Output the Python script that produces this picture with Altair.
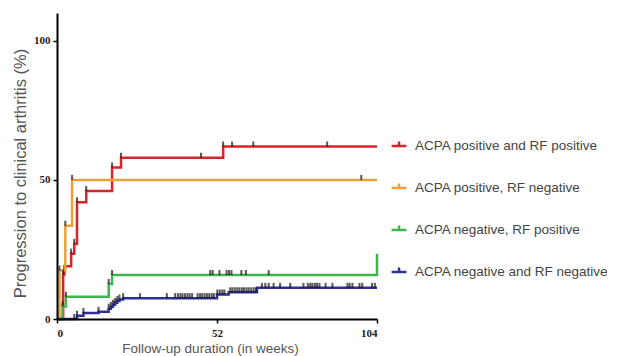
import altair as alt
import pandas as pd

series_names = [
    "ACPA positive and RF positive",
    "ACPA positive, RF negative",
    "ACPA negative, RF positive",
    "ACPA negative and RF negative",
]
series_colors = ["#d8232a", "#e9a23b", "#3db54a", "#2e3192"]

# step curves (week, cumulative %)
red_weeks = [0, 2.0, 2.4, 4.6, 5.6, 6.5, 9.5, 17.9, 20.8, 54.0, 104]
red_vals = [0, 16, 19, 23.5, 27, 42, 46, 54.5, 58, 62, 62]
orange_weeks = [0, 0.8, 2.7, 4.9, 104]
orange_vals = [0, 17.4, 33.5, 50, 50]
green_weeks = [0, 1.8, 2.9, 16.8, 17.9, 104]
green_vals = [0, 4.5, 8, 12.6, 15.8, 23.5]
blue_weeks = [0, 6.5, 8.6, 13.5, 16.8, 17.5, 18.2, 18.9, 19.6, 20.3, 21.5, 52.0, 55.8, 65.0, 104]
blue_vals = [0, 1.2, 2.2, 2.6, 3.7, 4.4, 5.1, 5.8, 6.5, 7.0, 7.5, 8.8, 9.6, 11.2, 11.2]

# censoring marks (weeks)
red_cens = [2.0, 4.6, 5.6, 6.5, 9.5, 17.9, 20.8, 46.8, 54.0, 56.9, 63.8, 87.8]
orange_cens = [0.8, 2.7, 4.9, 98.9]
green_cens = [1.8, 2.9, 16.8, 17.9, 49.8, 50.6, 52.8, 55.1, 55.9, 56.7, 59.9, 61.4, 68.8]
blue_cens = [5.6, 6.5, 8.6, 13.5, 16.8, 17.5, 18.2, 18.9, 19.6, 20.3, 21.5, 27.0,
             35.7, 38.4, 39.3, 40.1, 40.8, 41.6, 42.4, 43.1, 43.9,
             45.7, 46.5, 47.2, 48.0, 48.8, 49.5, 50.3, 51.0,
             52.1, 52.9, 53.7, 54.4, 56.3, 57.0, 57.8, 58.6, 59.3, 60.1, 60.8,
             61.6, 62.3, 63.1, 63.9, 64.6, 66.6, 67.7, 68.8, 70.4, 72.5, 75.8,
             80.1, 81.5, 82.3, 83.0, 83.8, 84.5, 85.3, 87.3, 89.5, 94.4, 95.1,
             96.0, 98.3, 99.2, 102.4, 103.3]

curves = [(red_weeks, red_vals, red_cens), (orange_weeks, orange_vals, orange_cens),
          (green_weeks, green_vals, green_cens), (blue_weeks, blue_vals, blue_cens)]

line_rows, tick_rows = [], []
for name, (wk, vals, cens) in zip(series_names, curves):
    for w, v in zip(wk, vals):
        line_rows.append({"series": name, "week": w, "pct": v})
    for c in cens:
        v = 0
        for w, val in zip(wk, vals):
            if w <= c:
                v = val
        tick_rows.append({"series": name, "week": c, "pct": v})

lines_df = pd.DataFrame(line_rows)
ticks_df = pd.DataFrame(tick_rows)

x_enc = alt.X("week:Q", scale=alt.Scale(domain=[0, 104], nice=False),
              axis=alt.Axis(values=[0, 52, 104], title="Follow-up duration (in weeks)",
                            grid=False, domainColor="black", domainWidth=2, tickColor="black",
                            tickWidth=1.5, tickSize=4, labelFont="Liberation Sans Narrow",
                            labelFontWeight="bold", labelFontSize=11, labelColor="#222",
                            titleFont="Liberation Sans", titleFontWeight="normal",
                            titleFontSize=13.5, titleColor="#555", titlePadding=3,
                            titleX=153, labelPadding=4, zindex=1))
y_enc = alt.Y("pct:Q", scale=alt.Scale(domain=[0, 110], nice=False),
              axis=alt.Axis(values=[0, 50, 100], title="Progression to clinical arthritis (%)",
                            grid=False, domainColor="black", domainWidth=2, tickColor="black",
                            tickWidth=1.5, tickSize=4, labelFont="Liberation Sans Narrow",
                            labelFontWeight="bold", labelFontSize=11, labelColor="#222",
                            titleFont="Liberation Sans", titleFontWeight="normal",
                            titleFontSize=16.5, titleColor="#555", titlePadding=5,
                            titleY=160, labelPadding=3, zindex=1))

color_enc = alt.Color("series:N",
                      scale=alt.Scale(domain=series_names, range=series_colors),
                      legend=alt.Legend(title=None, orient="none", legendX=333, legendY=124,
                                        symbolType="M-1,0H1M0,0V-0.6", symbolStrokeWidth=2.5,
                                        symbolSize=220, labelFont="Liberation Sans",
                                        labelFontSize=13.5, labelColor="#444", rowPadding=25,
                                        labelOffset=7, labelLimit=300))

lines = alt.Chart(lines_df).mark_line(interpolate="step-after", strokeWidth=2.5).encode(
    x=x_enc, y=y_enc, color=color_enc, detail="series:N")

ticks = alt.Chart(ticks_df).mark_tick(color="#111", thickness=2, size=5,
                                      orient="vertical", yOffset=-2.5).encode(
    x="week:Q", y="pct:Q")

chart = alt.layer(lines, ticks).properties(
    width=320, height=306,
    background="white",
    autosize=alt.AutoSizeParams(type="none"),
    padding={"left": 49, "top": 5, "right": 234, "bottom": 45},
).configure_view(strokeWidth=0)

chart.save("out.html", embed_options={"renderer": "svg", "actions": False})
